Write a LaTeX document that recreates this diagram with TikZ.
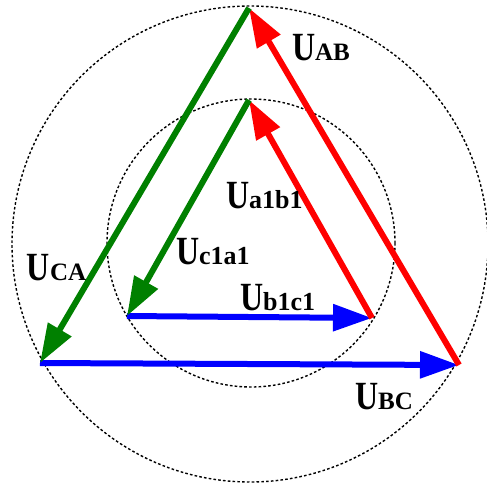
\documentclass[tikz,border=0pt]{standalone}
\usepackage{fontspec}
\setmainfont{Liberation Serif}
\usetikzlibrary{arrows.meta}
\definecolor{vred}{RGB}{255,0,0}
\definecolor{vgreen}{RGB}{0,128,0}
\definecolor{vblue}{RGB}{0,0,255}
\newcommand{\Ubig}{\fontsize{40}{40}\selectfont\bfseries\scalebox{0.8}[1]{U}}
\newcommand{\subU}[1]{{\fontsize{25}{25}\selectfont\bfseries #1}}
\newcommand{\subl}[1]{{\fontsize{26}{26}\selectfont\bfseries #1}}
\tikzset{
  phasor/.style={line width=6pt, -{Triangle[length=39pt,width=26pt]}},
  guide/.style={black, line width=1.4pt, dash pattern=on 2.6pt off 2.2pt},
  lab/.style={anchor=base west, inner sep=0pt, outer sep=0pt}
}
\begin{document}
\begin{tikzpicture}[x=1pt,y=-1pt]
\useasboundingbox (0,0) rectangle (487,483);
\begin{scope}
\clip (0,0) rectangle (487,483);
\draw[guide] (250,244) circle[radius=238];
\draw[guide] (251,243) circle[radius=144];
\end{scope}
% outer triangle
\coordinate (A) at (249,8);
\coordinate (C) at (40,363);
\coordinate (B) at (459,365);
% inner triangle
\coordinate (a) at (249,100);
\coordinate (c) at (127,316);
\coordinate (b) at (372,318);
\draw[phasor, vblue] (C) -- (B);
\draw[phasor, vblue] (c) -- (b);
\draw[phasor, vred] (B) -- (A);
\draw[phasor, vred] (b) -- (a);
\draw[phasor, vgreen] (A) -- (C);
\draw[phasor, vgreen] (a) -- (c);
% labels
\node[lab] (lAB) at (292,60) {\Ubig\subU{AB}};
\node[lab] (lab1) at (226,208) {\Ubig\subl{a1b1}};
\node[lab] (lca1) at (176,264) {\Ubig\subl{c1a1}};
\node[lab] (lbc1) at (240,310) {\Ubig\subl{b1c1}};
\node[lab] (lCA) at (27,280) {\Ubig\subU{CA}};
\node[lab] (lBC) at (355,409) {\Ubig\subU{BC}};
\end{tikzpicture}
\end{document}
